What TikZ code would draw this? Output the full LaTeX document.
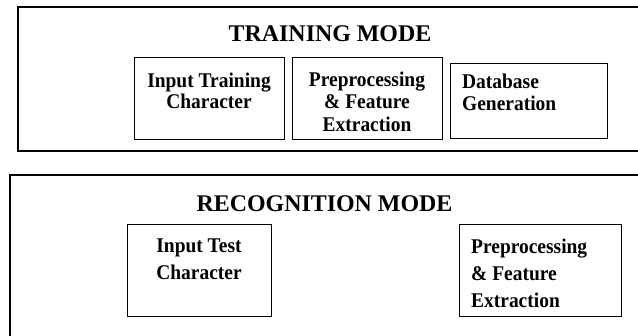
\documentclass[tikz,border=0pt]{standalone}
\usepackage{fontspec}
\setmainfont{Liberation Serif}
\begin{document}
\begin{tikzpicture}[x=1bp,y=-1bp,
  outer/.style={draw, line width=1.6bp, inner sep=0pt},
  box/.style={draw, line width=0.8bp, inner sep=0pt},
  title/.style={font=\fontsize{24}{26}\selectfont\bfseries, inner sep=0pt, anchor=base},
  txt/.style={font=\fontsize{21}{21}\selectfont\bfseries, inner sep=0pt, align=center, xscale=0.93, transform shape},
  txtb/.style={font=\fontsize{21}{27}\selectfont\bfseries, inner sep=0pt, xscale=0.93, transform shape}]
\useasboundingbox (0,0) rectangle (638,335);
\clip (0,0) rectangle (638,335);
% training mode
\node[outer, anchor=north west, minimum width=650bp, minimum height=144bp] (train) at (17,6) {};
\node[title] (ttitle) at (330,41) {TRAINING MODE};
\node[box, anchor=north west, minimum width=150bp, minimum height=82bp] (itc) at (134,57) {};
\node[box, anchor=north west, minimum width=150bp, minimum height=82bp] (pfe) at (292,57) {};
\node[box, anchor=north west, minimum width=157bp, minimum height=75bp] (dbg) at (450,63) {};
\node[txt, anchor=north] (itct) at (209,72.5) {Input Training\\Character};
\node[txt, anchor=north, font=\fontsize{21}{22.5}\selectfont\bfseries] (pfet) at (367,71.5) {Preprocessing\\\& Feature\\Extraction};
\node[txt, anchor=north west, align=left, font=\fontsize{21}{22}\selectfont\bfseries] (dbgt) at (462,73.5) {Database\\Generation};
% recognition mode
\node[outer, anchor=north west, minimum width=660bp, minimum height=200bp] (recog) at (9,174) {};
\node[title] (rtitle) at (324.5,211) {RECOGNITION MODE};
\node[box, anchor=north west, minimum width=144bp, minimum height=92bp] (itest) at (127,224) {};
\node[box, anchor=north west, minimum width=162bp, minimum height=92bp] (rpfe) at (459,224) {};
\node[txtb, anchor=north, align=center] (itestt) at (199,238.5) {Input Test\\Character};
\node[txtb, anchor=north west, align=left] (rpfet) at (471,238.5) {Preprocessing\\\& Feature\\Extraction};
\end{tikzpicture}
\end{document}
